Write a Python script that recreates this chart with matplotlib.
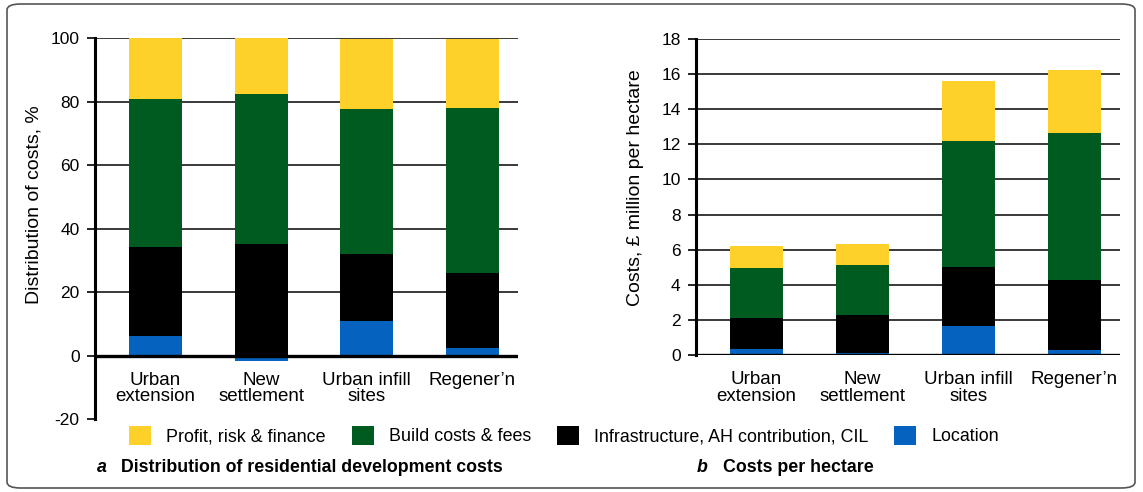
import matplotlib
matplotlib.use("Agg")
import matplotlib.pyplot as plt
import numpy as np
from matplotlib.patches import FancyBboxPatch, Patch

plt.rcParams['font.family'] = ['Liberation Sans', 'DejaVu Sans']

categories = ["Urban\nextension", "New\nsettlement", "Urban infill\nsites", "Regener\u2019n"]
series_names = ["Profit, risk & finance", "Build costs & fees",
                "Infrastructure, AH contribution, CIL", "Location"]
colors = ["#FED02A", "#005B20", "#000000", "#0563BF"]

# a: distribution of costs, %
share_location = [6.2, -1.8, 10.9, 2.4]
share_infra = [28.0, 35.2, 21.1, 23.7]
share_build = [46.7, 47.2, 45.7, 51.9]
share_profit = [19.1, 17.6, 22.1, 21.8]

# b: costs, £ million per hectare
ha_location = [0.36, 0.13, 1.67, 0.30]
ha_infra = [1.76, 2.16, 3.35, 3.98]
ha_build = [2.84, 2.84, 7.16, 8.36]
ha_profit = [1.25, 1.20, 3.41, 3.58]

W, H = 1143, 492
fig = plt.figure(figsize=(W / 100, H / 100), dpi=100)


def stacked(ax, location, infra, build, profit):
    x = np.arange(len(categories))
    loc = np.array(location)
    base = np.clip(loc, 0, None)
    ax.bar(x, loc, 0.5, color=colors[3], zorder=2)
    ax.bar(x, infra, 0.5, bottom=base, color=colors[2], zorder=2)
    base = base + np.array(infra)
    ax.bar(x, build, 0.5, bottom=base, color=colors[1], zorder=2)
    base = base + np.array(build)
    ax.bar(x, profit, 0.5, bottom=base, color=colors[0], zorder=2)
    ax.set_xlim(-0.571, 3.43)
    ax.set_xticks([])
    for s in ["top", "right", "bottom"]:
        ax.spines[s].set_visible(False)
    ax.spines["left"].set_linewidth(2.2)
    ax.axhline(0, color="black", lw=2.4, zorder=3)
    ax.tick_params(axis="y", direction="out", length=6, width=1.2, pad=5, labelsize=12.5)
    ax.yaxis.grid(True, color="#2a2a2a", lw=1.3, zorder=0)
    ax.set_axisbelow(True)
    for i, c in enumerate(categories):
        ax.annotate(c, xy=(i, 0), xytext=(0, -11.5), textcoords="offset points",
                    ha="center", va="top", fontsize=13.5, linespacing=0.95)


ax1 = fig.add_axes([95 / W, 1 - 419.2 / H, 423 / W, 380.9 / H])
stacked(ax1, share_location, share_infra, share_build, share_profit)
ax1.set_ylim(-20, 100)
ax1.set_yticks(range(-20, 101, 20))
ax1.set_yticklabels([str(v) for v in range(-20, 101, 20)])
ax1.get_ygridlines()[0].set_visible(False)
ax1.get_ygridlines()[1].set_visible(False)

ax2 = fig.add_axes([696 / W, 1 - 355.3 / H, 424 / W, 316.6 / H])
stacked(ax2, ha_location, ha_infra, ha_build, ha_profit)
ax2.set_ylim(0, 18)
ax2.set_yticks(range(0, 19, 2))
ax2.get_ygridlines()[0].set_visible(False)

fig.text(34 / W, 1 - 205 / H, "Distribution of costs, %", rotation=90,
         ha="center", va="center", fontsize=14)
fig.text(636 / W, 1 - 188 / H, "Costs, \u00a3 million per hectare", rotation=90,
         ha="center", va="center", fontsize=14)

handles = [Patch(facecolor=c, edgecolor="none") for c in colors]
fig.legend(handles, series_names, loc="center", bbox_to_anchor=(564 / W, 1 - 435.5 / H),
           ncol=4, frameon=False, fontsize=12.9, handlelength=1.23, handleheight=1.23,
           handletextpad=0.84, columnspacing=1.45, borderaxespad=0, borderpad=0)

fig.text(97 / W, 1 - 468 / H, "a", fontsize=12.8, fontweight="bold", fontstyle="italic",
         va="center")
fig.text(121 / W, 1 - 468 / H, "Distribution of residential development costs",
         fontsize=12.8, fontweight="bold", va="center")
fig.text(697 / W, 1 - 468 / H, "b", fontsize=12.8, fontweight="bold", fontstyle="italic",
         va="center")
fig.text(723 / W, 1 - 468 / H, "Costs per hectare", fontsize=12.8, fontweight="bold",
         va="center")

frame = FancyBboxPatch((7 / W, 4 / H), 1128 / W, 484 / H,
                       boxstyle="round,pad=0,rounding_size=0.012",
                       transform=fig.transFigure, fill=False, edgecolor="#555555", lw=1.2)
fig.patches.append(frame)

fig.savefig("out.png", dpi=100)
